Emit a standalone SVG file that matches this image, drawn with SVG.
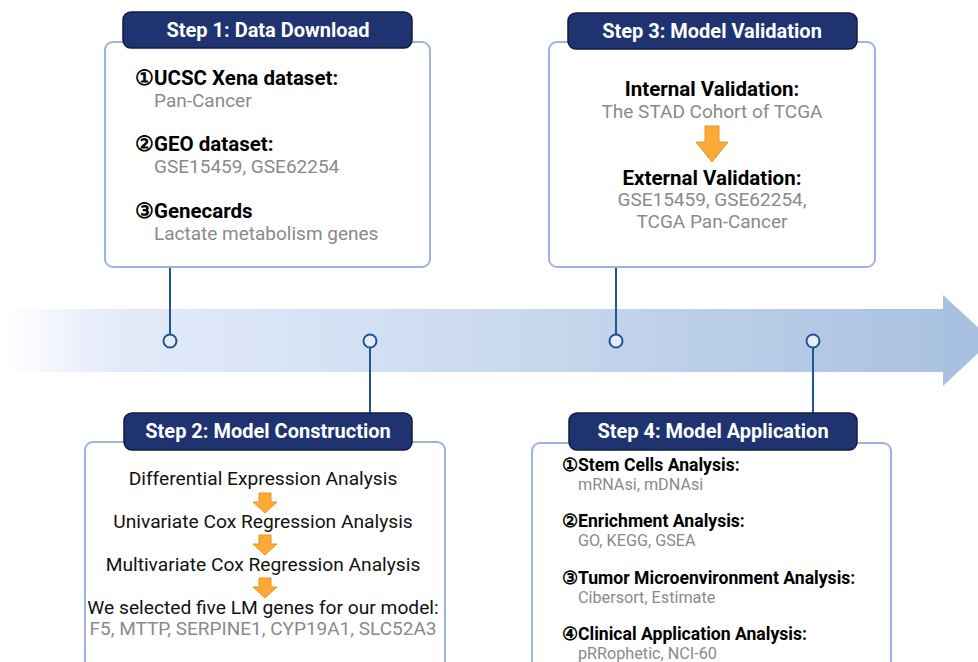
<svg xmlns="http://www.w3.org/2000/svg" width="978" height="662" viewBox="0 0 978 662">
<defs>
<linearGradient id="band" x1="0" y1="0" x2="1" y2="0">
<stop offset="0" stop-color="#ffffff"/>
<stop offset="0.1" stop-color="#e4ebfa"/>
<stop offset="0.35" stop-color="#d4e1f4"/>
<stop offset="0.7" stop-color="#bccfe8"/>
<stop offset="1" stop-color="#a6bfdf"/>
</linearGradient>
<style>
.box{fill:#ffffff;stroke:#9db4dc;stroke-width:2}
.hdr{fill:#1e3370;stroke:#101c44;stroke-width:1.5}
.ht{font-family:Roboto,"Liberation Sans",sans-serif;font-weight:bold;font-size:20px;fill:#ffffff;text-anchor:middle}
.b{font-family:Roboto,"Liberation Sans",sans-serif;font-weight:bold;font-size:20.5px;fill:#000000}
.g{font-family:Roboto,"Liberation Sans",sans-serif;font-size:19px;fill:#8a8a8a}
.r{font-family:Roboto,"Liberation Sans",sans-serif;font-size:19.2px;fill:#111111;text-anchor:middle}
.b4{font-family:Roboto,"Liberation Sans",sans-serif;font-weight:bold;font-size:17.6px;fill:#000000}
.g4{font-family:Roboto,"Liberation Sans",sans-serif;font-size:16.2px;fill:#8a8a8a}
.c{text-anchor:middle}
.arr{fill:#fbab35;stroke:#f0901e;stroke-width:1}
.ln{stroke:#1f5596;stroke-width:2;fill:none}
.dot{fill:#e6edf9;stroke:#1f5596;stroke-width:2}
</style>
</defs>
<g id="timeline">
<path d="M8,309 H943 V295 L992,340 L943,386 V372 H8 Z" fill="url(#band)"/>
</g>
<g id="connectors">
<line class="ln" x1="170" y1="267" x2="170" y2="334"/>
<line class="ln" x1="370" y1="347" x2="370" y2="413"/>
<line class="ln" x1="616" y1="267" x2="616" y2="334"/>
<line class="ln" x1="813" y1="347" x2="813" y2="413"/>
<circle class="dot" cx="170" cy="341" r="6.5"/>
<circle class="dot" cx="370" cy="341" r="6.5"/>
<circle class="dot" cx="616" cy="341" r="6.5"/>
<circle class="dot" cx="813" cy="341" r="6.5"/>
</g>
<g id="step1">
<rect class="box" x="105" y="42" width="325" height="225" rx="8"/>
<rect class="hdr" x="123" y="12" width="289" height="36" rx="8"/>
<text class="ht" x="268" y="37">Step 1: Data Download</text>
<text class="b" x="135" y="85">①UCSC Xena dataset:</text>
<text class="g" x="154" y="107">Pan-Cancer</text>
<text class="b" x="135" y="151">②GEO dataset:</text>
<text class="g" x="154" y="173">GSE15459, GSE62254</text>
<text class="b" x="135" y="218">③Genecards</text>
<text class="g" x="154" y="240">Lactate metabolism genes</text>
</g>
<g id="step3">
<rect class="box" x="549" y="42" width="326" height="225" rx="8"/>
<rect class="hdr" x="568" y="13" width="289" height="36" rx="8"/>
<text class="ht" x="712" y="38">Step 3: Model Validation</text>
<text class="b c" x="712" y="96">Internal Validation:</text>
<text class="g c" x="712" y="118">The STAD Cohort of TCGA</text>
<path class="arr" d="M705,126 H719 V142 H728 L712,162 L696,142 H705 Z"/>
<text class="b c" x="712" y="185">External Validation:</text>
<text class="g c" x="712" y="206">GSE15459, GSE62254,</text>
<text class="g c" x="712" y="228">TCGA Pan-Cancer</text>
</g>
<g id="step2">
<rect class="box" x="85" y="442" width="360" height="240" rx="8"/>
<rect class="hdr" x="124" y="413" width="288" height="37" rx="8"/>
<text class="ht" x="268" y="438">Step 2: Model Construction</text>
<text class="r" x="263" y="485">Differential Expression Analysis</text>
<path class="arr" d="M259,493 H271 V502 H277 L265,513 L253,502 H259 Z"/>
<text class="r" x="263" y="528">Univariate Cox Regression Analysis</text>
<path class="arr" d="M259,535 H271 V544 H277 L265,555 L253,544 H259 Z"/>
<text class="r" x="263" y="571">Multivariate Cox Regression Analysis</text>
<path class="arr" d="M259,578 H271 V587 H277 L265,598 L253,587 H259 Z"/>
<text class="r" x="263" y="614">We selected five LM genes for our model:</text>
<text class="g c" x="263" y="635">F5, MTTP, SERPINE1, CYP19A1, SLC52A3</text>
</g>
<g id="step4">
<rect class="box" x="532" y="443" width="359" height="240" rx="8"/>
<rect class="hdr" x="569" y="413" width="288" height="37" rx="8"/>
<text class="ht" x="713" y="438">Step 4: Model Application</text>
<text class="b4" x="562" y="471">①Stem Cells Analysis:</text>
<text class="g4" x="578" y="490">mRNAsi, mDNAsi</text>
<text class="b4" x="562" y="527">②Enrichment Analysis:</text>
<text class="g4" x="578" y="546">GO, KEGG, GSEA</text>
<text class="b4" x="562" y="584">③Tumor Microenvironment Analysis:</text>
<text class="g4" x="578" y="603">Cibersort, Estimate</text>
<text class="b4" x="562" y="640">④Clinical Application Analysis:</text>
<text class="g4" x="578" y="659">pRRophetic, NCI-60</text>
</g>
</svg>
